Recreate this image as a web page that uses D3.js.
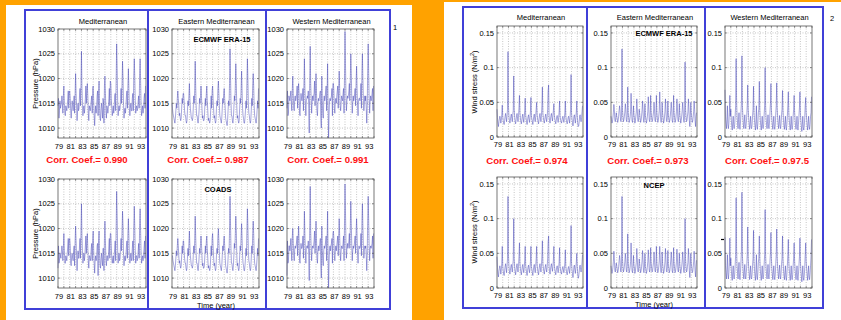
<!DOCTYPE html>
<html><head><meta charset="utf-8">
<script src="https://cdn.jsdelivr.net/npm/d3@7"></script>
<style>
html,body{margin:0;padding:0;background:#FFA200;}
svg{display:block;font-family:"Liberation Sans",Arial,sans-serif;}
</style></head>
<body><svg id="c" width="841" height="320"></svg>
<script>
// ---------- data (monthly, Jan 1979 - Dec 1993) ----------
const yearTicks = d3.range(1979, 1995);
const yearLabels = ["79","81","83","85","87","89","91","93"];
const pressureTicks = [1010,1015,1020,1025,1030];
const stressTicks = [0,0.05,0.1,0.15];
const regions = ["Mediterranean","Eastern Mediterranean","Western Mediterranean"];
const corrPressure = ["0.990","0.987","0.991"];
const corrStress = ["0.974","0.973","0.97.5"];

const P_MED_ERA = [
1014.5,1016.0,1012.0,1013.5,1015.5,1014.0,1014.5,1015.0,1016.5,1015.0,1013.0,1016.5,
1018.5,1015.0,1013.0,1012.5,1014.5,1014.0,1013.5,1014.5,1016.0,1017.5,1014.0,1017.0,
1017.5,1016.0,1013.5,1012.0,1014.0,1015.5,1014.5,1013.5,1015.0,1016.5,1013.0,1017.0,
1021.0,1017.0,1014.5,1011.5,1013.5,1015.0,1013.5,1014.0,1016.5,1018.0,1014.5,1019.0,
1025.5,1018.0,1015.0,1012.5,1014.0,1014.5,1013.0,1014.0,1016.0,1018.5,1015.0,1017.5,
1019.0,1016.5,1013.0,1011.5,1014.5,1014.0,1013.5,1014.5,1015.5,1016.5,1013.0,1018.0,
1018.5,1015.5,1012.5,1010.5,1013.0,1014.5,1013.0,1014.0,1016.5,1017.5,1012.5,1017.0,
1019.5,1014.0,1012.0,1011.5,1014.0,1015.0,1013.5,1012.0,1016.0,1015.5,1011.0,1018.5,
1020.5,1017.0,1013.5,1012.0,1014.5,1014.0,1013.0,1014.0,1016.0,1018.0,1014.5,1019.5,
1019.0,1016.0,1014.0,1012.5,1013.5,1014.5,1013.0,1014.0,1016.5,1017.0,1013.5,1020.0,
1027.0,1022.0,1015.5,1012.5,1014.0,1014.5,1013.5,1014.0,1016.0,1018.0,1015.0,1019.0,
1023.5,1020.0,1015.0,1012.0,1013.5,1014.0,1013.0,1014.5,1016.5,1017.5,1014.0,1018.5,
1022.0,1018.0,1014.0,1012.5,1014.0,1015.0,1013.5,1013.5,1016.0,1017.0,1013.5,1020.5,
1024.0,1020.5,1015.5,1013.0,1014.0,1014.5,1013.5,1014.0,1015.5,1016.5,1014.0,1021.0,
1024.0,1019.5,1014.5,1012.5,1013.5,1014.5,1013.0,1014.0,1016.0,1017.0,1014.0,1018.5];

const P_EAST_ERA = [
1015.0,1014.0,1013.0,1012.5,1012.0,1011.5,1011.0,1012.0,1013.5,1015.0,1014.0,1016.0,
1017.5,1016.0,1014.5,1012.5,1013.0,1012.0,1011.5,1012.0,1014.0,1016.0,1015.0,1017.0,
1017.0,1015.5,1013.5,1012.5,1012.5,1011.5,1011.0,1011.5,1013.5,1015.5,1014.5,1016.5,
1019.0,1016.0,1014.0,1013.0,1012.0,1012.0,1011.5,1012.0,1014.0,1016.5,1015.0,1017.5,
1023.5,1018.5,1014.5,1012.5,1012.5,1011.5,1011.0,1012.0,1013.5,1016.0,1015.0,1016.5,
1018.5,1016.5,1014.0,1012.0,1012.5,1011.5,1011.5,1012.0,1014.5,1016.0,1014.5,1017.0,
1018.5,1015.5,1013.5,1011.5,1012.0,1011.5,1011.0,1011.5,1013.5,1016.5,1014.0,1017.5,
1018.5,1016.0,1014.0,1012.0,1012.5,1011.5,1011.0,1011.5,1014.0,1015.5,1014.5,1018.0,
1019.5,1017.0,1014.5,1012.5,1012.0,1011.5,1011.0,1012.0,1014.0,1016.0,1015.0,1017.0,
1018.0,1016.0,1014.0,1012.0,1011.5,1011.0,1010.5,1011.5,1013.5,1015.5,1014.5,1019.0,
1026.0,1021.0,1015.5,1012.5,1012.5,1011.5,1011.0,1012.0,1014.0,1016.5,1015.5,1018.5,
1023.0,1019.0,1014.5,1012.0,1012.5,1011.5,1011.0,1011.5,1014.0,1016.0,1015.0,1018.0,
1021.5,1017.5,1014.0,1012.5,1012.0,1011.0,1011.0,1012.0,1013.5,1015.5,1014.0,1019.0,
1024.0,1020.0,1015.0,1013.0,1012.5,1011.5,1011.0,1011.5,1013.5,1016.0,1014.5,1018.5,
1021.0,1018.5,1014.5,1012.5,1012.0,1011.5,1011.0,1012.0,1013.5,1015.5,1014.0,1018.0];

const P_WEST_ERA = [
1014.0,1017.5,1012.5,1013.0,1016.5,1016.0,1015.5,1016.5,1017.5,1015.0,1013.5,1018.0,
1020.5,1016.5,1014.0,1013.5,1016.0,1016.5,1015.5,1016.0,1017.0,1018.5,1014.0,1017.5,
1019.0,1017.0,1013.0,1012.5,1015.5,1017.0,1016.0,1015.5,1016.5,1018.0,1013.5,1018.5,
1024.0,1018.5,1015.0,1012.5,1015.5,1016.0,1016.5,1016.0,1017.5,1014.0,1009.0,1019.0,
1026.5,1019.0,1016.0,1013.0,1015.5,1016.5,1015.5,1016.5,1017.0,1019.5,1014.5,1017.0,
1021.0,1017.5,1013.5,1012.5,1015.0,1016.0,1015.5,1016.0,1017.0,1017.5,1012.0,1010.0,
1020.5,1015.0,1013.0,1012.0,1015.5,1016.5,1015.5,1016.0,1017.5,1018.5,1013.5,1017.5,
1023.0,1014.5,1008.0,1012.5,1015.5,1016.0,1015.5,1016.0,1016.5,1018.0,1012.5,1019.0,
1019.0,1017.5,1014.0,1013.0,1015.5,1016.0,1015.0,1016.5,1017.5,1018.5,1014.0,1018.0,
1021.5,1018.0,1014.5,1013.5,1015.0,1016.5,1016.0,1015.5,1017.0,1018.0,1013.0,1021.0,
1029.5,1023.0,1016.5,1013.5,1015.5,1016.5,1016.0,1016.5,1017.5,1019.0,1015.5,1020.0,
1025.0,1021.0,1016.0,1013.0,1015.0,1016.5,1015.5,1016.0,1017.0,1018.0,1014.5,1019.5,
1022.5,1018.0,1014.5,1012.5,1015.5,1016.0,1016.0,1015.5,1016.5,1019.0,1014.0,1021.0,
1025.0,1020.0,1016.0,1013.5,1015.0,1016.5,1015.5,1016.5,1014.0,1011.0,1014.5,1021.5,
1027.0,1021.0,1016.0,1013.0,1015.5,1016.5,1015.5,1016.0,1017.0,1018.0,1013.5,1018.5];

const P_MED_COADS = [
1012.0,1016.5,1013.0,1013.5,1015.0,1014.5,1014.0,1015.5,1016.5,1015.5,1013.5,1016.0,
1019.0,1015.5,1013.0,1013.0,1014.5,1014.0,1013.5,1015.0,1016.5,1018.0,1014.5,1017.5,
1018.0,1016.5,1013.0,1012.5,1014.5,1015.0,1014.0,1013.5,1015.5,1016.5,1012.5,1017.5,
1020.5,1017.5,1014.5,1011.5,1014.0,1015.5,1014.0,1014.0,1016.5,1018.0,1014.0,1019.5,
1025.0,1018.5,1015.5,1013.0,1014.0,1015.0,1013.5,1014.5,1016.5,1018.5,1015.0,1017.5,
1019.0,1016.0,1013.5,1012.0,1014.5,1014.5,1013.5,1014.0,1016.0,1017.0,1013.5,1018.0,
1019.5,1015.5,1013.0,1011.0,1013.5,1014.5,1013.5,1014.0,1016.5,1017.0,1010.5,1017.5,
1019.5,1014.5,1012.5,1012.0,1014.0,1015.0,1013.5,1012.5,1016.0,1016.0,1011.5,1018.0,
1021.5,1017.5,1013.5,1012.5,1014.5,1014.5,1013.5,1014.0,1016.5,1018.0,1014.0,1019.0,
1019.0,1016.5,1014.0,1013.0,1014.0,1014.5,1013.0,1014.5,1016.0,1017.5,1013.5,1020.5,
1027.5,1022.5,1015.5,1013.0,1014.5,1015.0,1013.5,1014.0,1016.5,1018.0,1015.5,1019.5,
1023.5,1020.5,1015.0,1012.5,1014.0,1014.5,1013.5,1014.5,1016.5,1017.5,1014.0,1019.0,
1022.0,1018.5,1014.5,1013.0,1014.0,1015.0,1013.5,1014.0,1016.0,1017.5,1013.5,1020.0,
1024.5,1020.5,1015.5,1013.0,1014.5,1014.5,1013.5,1014.0,1015.5,1017.0,1014.0,1021.0,
1024.0,1019.5,1015.0,1013.0,1014.0,1014.5,1013.5,1014.5,1016.0,1017.5,1014.0,1018.5];

const P_EAST_COADS = [
1014.5,1014.5,1013.5,1013.0,1012.5,1012.0,1011.5,1012.5,1014.0,1015.5,1014.5,1016.5,
1018.0,1016.5,1014.5,1013.0,1013.5,1012.5,1012.0,1012.5,1014.5,1016.5,1015.0,1017.5,
1017.5,1015.5,1014.0,1013.0,1013.0,1012.0,1011.5,1012.0,1014.0,1016.0,1014.5,1017.0,
1019.5,1016.5,1014.5,1013.5,1012.5,1012.5,1012.0,1012.5,1014.5,1016.5,1015.0,1017.5,
1022.5,1018.5,1015.0,1013.0,1013.0,1012.0,1011.5,1012.5,1014.0,1016.0,1015.0,1017.0,
1018.5,1017.0,1014.5,1012.5,1013.0,1012.0,1012.0,1012.5,1014.5,1016.5,1015.0,1017.5,
1018.5,1016.0,1014.0,1012.0,1012.5,1012.0,1011.5,1012.0,1014.0,1016.5,1014.5,1018.0,
1019.0,1016.5,1014.5,1012.5,1013.0,1012.0,1011.5,1012.0,1014.5,1016.0,1015.0,1018.5,
1020.0,1017.5,1015.0,1013.0,1012.5,1012.0,1011.5,1012.5,1014.5,1016.5,1015.5,1017.5,
1018.5,1016.5,1014.5,1012.5,1012.0,1011.5,1011.0,1012.0,1014.0,1016.0,1015.0,1019.5,
1026.5,1021.5,1016.0,1013.0,1013.0,1012.0,1011.5,1012.5,1014.5,1017.0,1016.0,1019.0,
1022.5,1019.5,1015.0,1012.5,1013.0,1012.0,1011.5,1012.0,1014.5,1016.5,1015.5,1018.5,
1021.0,1018.0,1014.5,1013.0,1012.5,1011.5,1011.5,1012.5,1014.0,1016.0,1014.5,1019.5,
1024.0,1020.5,1015.5,1013.5,1013.0,1012.0,1011.5,1012.0,1014.0,1016.5,1015.0,1019.0,
1021.5,1019.0,1015.0,1013.0,1012.5,1012.0,1011.5,1012.5,1014.0,1016.0,1014.5,1018.0];

const P_WEST_COADS = [
1010.5,1017.5,1013.0,1013.5,1016.5,1016.5,1015.5,1016.5,1018.0,1015.5,1013.5,1018.5,
1020.0,1017.0,1014.5,1013.5,1016.0,1016.5,1016.0,1016.5,1017.5,1018.5,1014.5,1018.0,
1020.5,1017.5,1013.5,1013.0,1015.5,1017.0,1016.0,1016.0,1016.5,1018.5,1014.0,1018.0,
1023.5,1019.0,1015.5,1013.0,1016.0,1016.5,1016.5,1016.0,1017.5,1014.5,1009.5,1019.5,
1028.5,1019.5,1016.0,1013.5,1016.0,1016.5,1016.0,1016.5,1017.5,1019.5,1015.0,1017.5,
1021.5,1018.0,1014.0,1013.0,1015.5,1016.5,1015.5,1016.0,1017.0,1018.0,1012.5,1010.0,
1020.5,1015.5,1013.5,1012.5,1015.5,1016.5,1016.0,1016.5,1017.5,1018.5,1013.5,1018.0,
1023.5,1015.0,1008.0,1013.0,1016.0,1016.5,1015.5,1016.5,1017.0,1018.0,1013.0,1019.0,
1019.5,1018.0,1014.5,1013.5,1015.5,1016.5,1015.5,1016.5,1017.5,1018.5,1014.5,1018.5,
1022.0,1018.5,1015.0,1013.5,1015.5,1016.5,1016.0,1016.0,1017.0,1018.5,1013.5,1021.5,
1029.0,1023.5,1017.0,1014.0,1016.0,1017.0,1016.0,1016.5,1017.5,1019.0,1016.0,1020.5,
1025.5,1021.0,1016.5,1013.5,1015.5,1016.5,1016.0,1016.5,1017.5,1018.5,1015.0,1019.5,
1022.0,1018.5,1015.0,1013.0,1015.5,1016.5,1016.0,1016.0,1016.5,1019.0,1014.5,1021.0,
1025.0,1020.5,1016.5,1014.0,1015.5,1016.5,1016.0,1016.5,1014.5,1011.5,1015.0,1021.5,
1026.5,1021.5,1016.5,1013.5,1016.0,1016.5,1016.0,1016.5,1017.0,1018.5,1014.0,1019.0];

const W_MED_ERA = [
.040,.028,.020,.015,.022,.026,.030,.027,.020,.024,.032,.046,
.030,.024,.020,.018,.024,.030,.034,.028,.022,.030,.040,.123,
.045,.030,.024,.020,.024,.030,.033,.027,.022,.032,.038,.088,
.040,.028,.022,.019,.025,.031,.034,.027,.022,.030,.042,.060,
.035,.027,.022,.019,.024,.030,.033,.026,.021,.028,.038,.056,
.032,.026,.022,.018,.024,.029,.032,.026,.021,.027,.037,.057,
.030,.026,.022,.018,.024,.030,.033,.026,.022,.030,.040,.050,
.032,.026,.022,.019,.025,.031,.034,.027,.022,.030,.045,.072,
.034,.028,.023,.020,.025,.030,.033,.026,.022,.029,.040,.066,
.075,.030,.024,.020,.026,.031,.034,.028,.023,.030,.038,.048,
.032,.026,.022,.019,.024,.029,.031,.026,.021,.028,.036,.052,
.030,.025,.022,.020,.024,.028,.030,.025,.021,.027,.035,.052,
.030,.025,.021,.019,.023,.028,.030,.025,.020,.028,.040,.090,
.035,.026,.021,.016,.022,.030,.032,.025,.020,.028,.036,.052,
.030,.020,.015,.016,.022,.030,.032,.026,.022,.028,.036,.045];

const W_EAST_ERA = [
.030,.025,.020,.022,.028,.035,.047,.040,.025,.022,.028,.035,
.030,.026,.021,.024,.030,.038,.045,.038,.024,.022,.030,.127,
.040,.030,.022,.025,.030,.036,.048,.040,.025,.022,.030,.072,
.035,.028,.021,.024,.029,.037,.063,.040,.024,.021,.028,.045,
.032,.028,.020,.023,.030,.036,.055,.042,.025,.022,.028,.040,
.034,.027,.021,.024,.030,.038,.052,.040,.024,.021,.029,.048,
.030,.026,.020,.023,.029,.037,.058,.042,.025,.022,.028,.060,
.036,.028,.022,.024,.030,.036,.050,.041,.024,.022,.030,.060,
.035,.027,.021,.024,.030,.038,.065,.042,.025,.021,.028,.050,
.034,.028,.020,.023,.029,.037,.055,.040,.024,.022,.029,.052,
.032,.027,.021,.024,.030,.038,.050,.041,.024,.021,.028,.060,
.035,.028,.021,.023,.029,.037,.055,.042,.025,.022,.030,.048,
.033,.027,.020,.024,.030,.038,.050,.040,.024,.021,.030,.108,
.040,.030,.022,.024,.030,.036,.055,.042,.024,.015,.028,.050,
.035,.028,.021,.023,.029,.037,.052,.040,.024,.015,.030,.035];

const W_WEST_ERA = [
.068,.030,.020,.012,.025,.045,.018,.012,.020,.035,.060,.030,
.040,.025,.015,.010,.022,.030,.015,.012,.018,.030,.045,.113,
.050,.030,.020,.012,.025,.035,.016,.011,.020,.035,.050,.117,
.045,.030,.018,.012,.022,.032,.015,.012,.020,.030,.045,.075,
.040,.028,.018,.011,.020,.030,.014,.012,.018,.030,.040,.073,
.035,.025,.016,.010,.022,.045,.015,.011,.020,.035,.040,.080,
.040,.025,.016,.010,.020,.030,.014,.012,.018,.032,.045,.100,
.045,.028,.018,.012,.022,.032,.016,.012,.020,.035,.048,.077,
.040,.026,.017,.011,.021,.030,.015,.011,.018,.033,.045,.078,
.042,.027,.018,.012,.022,.031,.016,.012,.019,.032,.040,.067,
.038,.025,.016,.011,.020,.030,.014,.010,.018,.030,.045,.065,
.035,.024,.016,.010,.020,.030,.014,.011,.017,.030,.040,.060,
.036,.025,.016,.011,.020,.030,.015,.010,.018,.030,.042,.065,
.035,.024,.015,.008,.018,.030,.014,.010,.016,.028,.045,.057,
.035,.025,.016,.010,.020,.030,.015,.011,.018,.030,.035,.058];

const W_MED_NCEP = [
.045,.030,.020,.016,.024,.028,.032,.028,.020,.026,.035,.060,
.032,.025,.020,.018,.025,.031,.035,.029,.022,.031,.042,.132,
.048,.032,.025,.020,.025,.031,.034,.028,.023,.033,.040,.100,
.042,.029,.023,.019,.026,.032,.035,.028,.023,.031,.045,.065,
.036,.028,.023,.019,.025,.031,.034,.027,.022,.029,.040,.060,
.033,.027,.022,.018,.025,.030,.033,.027,.022,.028,.038,.060,
.031,.027,.022,.018,.025,.031,.034,.027,.022,.031,.042,.060,
.033,.027,.022,.019,.026,.032,.035,.028,.023,.031,.046,.068,
.035,.029,.024,.020,.026,.031,.034,.027,.023,.030,.042,.066,
.075,.031,.025,.020,.027,.032,.035,.029,.024,.031,.040,.060,
.033,.027,.022,.019,.025,.030,.032,.027,.022,.029,.037,.058,
.031,.026,.022,.020,.025,.029,.031,.026,.022,.028,.036,.055,
.031,.026,.021,.019,.024,.029,.031,.026,.021,.029,.042,.090,
.036,.027,.021,.015,.022,.031,.033,.026,.021,.029,.037,.050,
.031,.020,.014,.016,.023,.031,.033,.027,.023,.029,.037,.048];

const W_EAST_NCEP = [
.032,.026,.021,.024,.030,.038,.053,.042,.026,.023,.030,.036,
.032,.027,.022,.025,.031,.039,.047,.040,.025,.023,.031,.132,
.042,.031,.023,.026,.031,.038,.050,.041,.026,.023,.031,.078,
.036,.029,.022,.025,.030,.038,.065,.042,.025,.022,.029,.047,
.033,.029,.021,.024,.031,.037,.057,.044,.026,.023,.029,.042,
.035,.028,.022,.025,.031,.039,.054,.041,.025,.022,.030,.050,
.031,.027,.021,.024,.030,.038,.055,.043,.026,.023,.029,.058,
.037,.029,.023,.025,.031,.037,.052,.042,.025,.023,.031,.060,
.036,.028,.022,.025,.031,.039,.060,.043,.026,.022,.029,.052,
.035,.029,.021,.024,.030,.038,.057,.041,.025,.023,.030,.054,
.033,.028,.022,.025,.031,.039,.052,.042,.025,.022,.029,.058,
.036,.029,.022,.024,.030,.038,.056,.043,.026,.023,.031,.050,
.034,.028,.021,.025,.031,.039,.052,.041,.025,.022,.031,.100,
.042,.031,.023,.025,.031,.037,.057,.043,.025,.015,.029,.050,
.036,.029,.022,.024,.030,.038,.053,.041,.025,.016,.031,.040];

const W_WEST_NCEP = [
.073,.032,.022,.013,.027,.048,.020,.013,.022,.037,.072,.032,
.043,.027,.016,.011,.024,.032,.016,.013,.020,.032,.048,.130,
.053,.032,.022,.013,.027,.037,.017,.012,.022,.037,.053,.138,
.048,.032,.020,.013,.024,.034,.016,.013,.022,.032,.048,.088,
.043,.030,.020,.012,.022,.032,.015,.013,.020,.032,.043,.083,
.038,.027,.018,.011,.024,.048,.016,.012,.022,.037,.043,.075,
.043,.027,.018,.011,.022,.032,.015,.013,.020,.034,.048,.113,
.048,.030,.020,.013,.024,.034,.017,.013,.022,.037,.051,.080,
.043,.028,.019,.012,.023,.032,.016,.012,.020,.035,.048,.085,
.045,.029,.020,.013,.024,.033,.017,.013,.021,.034,.043,.075,
.041,.027,.018,.012,.022,.032,.015,.011,.020,.032,.048,.070,
.038,.026,.018,.011,.022,.032,.015,.012,.019,.032,.043,.065,
.039,.027,.018,.012,.022,.032,.016,.011,.020,.032,.045,.072,
.038,.026,.017,.009,.020,.032,.015,.011,.018,.030,.048,.065,
.038,.027,.018,.011,.022,.032,.016,.012,.020,.032,.045,.070];

// ---------- drawing ----------
const svg = d3.select("#c");
const FONT = "Liberation Sans, Arial, sans-serif";
const FRAME = "#4040d8";
const LINE = "#3434b0";

// pages
svg.append("rect").attr("x",6).attr("y",5).attr("width",406).attr("height",315).attr("fill","#fff");
svg.append("rect").attr("x",444).attr("y",2).attr("width",397).attr("height",318).attr("fill","#fff");

function frame(x0,y0,x1,y1,divs){
  const g = svg.append("g").attr("fill","none").attr("stroke",FRAME).attr("stroke-width",2);
  g.append("rect").attr("x",x0).attr("y",y0).attr("width",x1-x0).attr("height",y1-y0);
  divs.forEach(d=>g.append("line").attr("x1",d).attr("x2",d).attr("y1",y0).attr("y2",y1));
}
frame(25,10,390,309,[148,266]);
frame(463,7,823,308,[587,705]);

function txt(x,y,s,opt={}){
  return svg.append("text").attr("x",x).attr("y",y).text(s)
    .attr("font-family",FONT).attr("font-size",opt.size||7.5)
    .attr("font-weight",opt.bold?"bold":"normal")
    .attr("fill",opt.fill||"#000")
    .attr("text-anchor",opt.anchor||"middle");
}

function panel(x0,x1,y0,y1,yDomain,yTicks,yFmt,series,opts){
  const x = d3.scaleLinear().domain([1979,1994]).range([x0,x1]);
  const y = d3.scaleLinear().domain(yDomain).range([y1,y0]);
  const g = svg.append("g");
  g.append("rect").attr("x",x0).attr("y",y0).attr("width",x1-x0).attr("height",y1-y0).attr("fill","#fff");
  // grid
  g.selectAll(".vg").data(yearTicks.slice(1,-1)).enter().append("line")
    .attr("x1",d=>x(d)).attr("x2",d=>x(d)).attr("y1",y0).attr("y2",y1)
    .attr("stroke","#a0a0a0").attr("stroke-width",0.6).attr("stroke-dasharray","1,1.5");
  g.selectAll(".hg").data(yTicks.filter(t=>y(t)>y0+0.5 && y(t)<y1-0.5)).enter().append("line")
    .attr("x1",x0).attr("x2",x1).attr("y1",d=>y(d)).attr("y2",d=>y(d))
    .attr("stroke","#a0a0a0").attr("stroke-width",0.6).attr("stroke-dasharray","1,1.5");
  // series
  const line = d3.line().x((d,i)=>x(1979+i/12)).y(d=>y(d));
  g.append("path").datum(series).attr("d",line).attr("fill","none")
    .attr("stroke",LINE).attr("stroke-width",0.55).attr("stroke-opacity",0.8);
  // box
  g.append("rect").attr("x",x0).attr("y",y0).attr("width",x1-x0).attr("height",y1-y0)
    .attr("fill","none").attr("stroke","#555").attr("stroke-width",0.8);
  // ticks (inward)
  yearTicks.forEach(t=>{
    g.append("line").attr("x1",x(t)).attr("x2",x(t)).attr("y1",y1).attr("y2",y1-2).attr("stroke","#555").attr("stroke-width",0.6);
    g.append("line").attr("x1",x(t)).attr("x2",x(t)).attr("y1",y0).attr("y2",y0+2).attr("stroke","#555").attr("stroke-width",0.6);
  });
  yTicks.forEach(t=>{
    g.append("line").attr("x1",x0).attr("x2",x0+2).attr("y1",y(t)).attr("y2",y(t)).attr("stroke","#555").attr("stroke-width",0.6);
    g.append("line").attr("x1",x1).attr("x2",x1-2).attr("y1",y(t)).attr("y2",y(t)).attr("stroke","#555").attr("stroke-width",0.6);
    txt(x0-3,y(t)+2.7,yFmt(t),{anchor:"end"});
  });
  yearLabels.forEach((s,i)=>{
    txt(x(1979+2*i)+1,y1+opts.xlab,s);
  });
}

const fmtP = d=>String(d);
const fmtW = d=>d===0?"0":String(d);

// Left page (pressure)
const Lcols = [[58,146],[172,259],[287,374]];
const Lrows = [[29,138],[179,288]];
const Pseries = [[P_MED_ERA,P_EAST_ERA,P_WEST_ERA],[P_MED_COADS,P_EAST_COADS,P_WEST_COADS]];
Lrows.forEach((r,ri)=>Lcols.forEach((c,ci)=>{
  panel(c[0],c[1],r[0],r[1],[1008,1030],pressureTicks,fmtP,Pseries[ri][ci],{xlab:11});
}));
// Right page (wind stress)
const Rcols = [[497,583],[611,697],[725,812]];
const Rrows = [[26,137],[177,288]];
const Wseries = [[W_MED_ERA,W_EAST_ERA,W_WEST_ERA],[W_MED_NCEP,W_EAST_NCEP,W_WEST_NCEP]];
Rrows.forEach((r,ri)=>Rcols.forEach((c,ci)=>{
  panel(c[0],c[1],r[0],r[1],[0,0.16],stressTicks,fmtW,Wseries[ri][ci],{xlab:10});
}));

// titles
regions.forEach((s,i)=>{
  txt((Lcols[i][0]+Lcols[i][1])/2+1,23.5,s);
  txt((Rcols[i][0]+Rcols[i][1])/2+1,20,s);
});
txt(222,42,"ECMWF ERA-15",{bold:true,size:7.5});
txt(218,192,"COADS",{bold:true,size:7.5});
txt(664,36,"ECMWF ERA-15",{bold:true,size:7.5});
txt(654,188,"NCEP",{bold:true,size:7.5});

// corr coefs
const LcorrX=[87,208,328], RcorrX=[527,648,767];
corrPressure.forEach((s,i)=>txt(LcorrX[i],163,"Corr. Coef.= "+s,{bold:true,size:9.6,fill:"#ff1010"}));
corrStress.forEach((s,i)=>txt(RcorrX[i],164,"Corr. Coef.= "+s,{bold:true,size:9.6,fill:"#ff1010"}));

// axis titles
txt(216,307.5,"Time (year)");
txt(654,306.5,"Time (year)");
[83.5,233.5].forEach(cy=>{
  svg.append("text").attr("transform",`translate(37.5,${cy}) rotate(-90)`)
    .attr("text-anchor","middle").attr("font-family",FONT).attr("font-size",7.5).text("Pressure (hPa)");
});
[82,232].forEach(cy=>{
  const t = svg.append("text").attr("transform",`translate(476.5,${cy}) rotate(-90)`)
    .attr("text-anchor","middle").attr("font-family",FONT).attr("font-size",7.5);
  t.append("tspan").text("Wind stress (N/m");
  t.append("tspan").attr("baseline-shift","super").attr("font-size",5.5).text("2");
  t.append("tspan").text(")");
});
txt(395,30,"1");
txt(832,21,"2");
// small black mark left of lower-right wind panel
svg.append("line").attr("x1",721).attr("x2",724).attr("y1",239.5).attr("y2",239.5).attr("stroke","#000").attr("stroke-width",1.2);
</script></body></html>
